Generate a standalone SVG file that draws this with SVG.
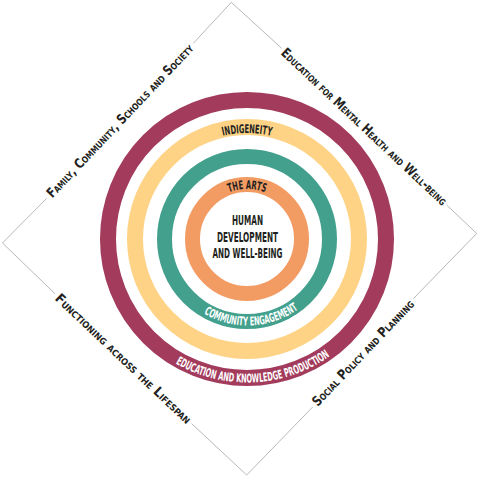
<svg xmlns="http://www.w3.org/2000/svg" width="480" height="477" viewBox="0 0 480 477">
<style>
.edge{fill:none;stroke:#b8b8b8;stroke-width:1}
.ring{fill:none}
.lbl{font-family:"Liberation Sans Narrow","DejaVu Sans Condensed","Liberation Sans",sans-serif;font-weight:bold;font-size:12px}
.dark{fill:#231f20}
.light{fill:#ffffff}
.outer{font-family:"Liberation Sans Narrow","DejaVu Sans Condensed","Liberation Sans",sans-serif;font-weight:bold;font-size:13.5px;font-variant:small-caps;fill:#231f20}
.core{font-family:"Liberation Sans Narrow","DejaVu Sans Condensed","Liberation Sans",sans-serif;font-weight:bold;font-size:14.5px;fill:#231f20;text-anchor:middle}
</style>
<defs>
<path id="pInd" d="M141,239 A106,106 0 0 1 353,239"/>
<path id="pArts" d="M197,239 A50,50 0 0 1 297,239"/>
<path id="pCom" d="M161,239 A86.5,86.5 0 0 0 334,239"/>
<path id="pEdu" d="M103.5,239 A143.5,143.5 0 0 0 390.5,239"/>
</defs>
<g id="connectors">
<path class="edge" d="M193.3,43.3 L231.3,2.3 L281.7,48.3"/>
<path class="edge" d="M446.7,205 L476.7,233.5 L413.3,298.7"/>
<path class="edge" d="M312.7,407 L246.7,475 L191.7,423.7"/>
<path class="edge" d="M55,293.7 L2.5,243 L46.7,198.3"/>
</g>
<g id="ring-education">
<circle class="ring" cx="247" cy="239" r="139" stroke="#a23b5c" stroke-width="16"/>
<text class="lbl light"><textPath href="#pEdu" startOffset="51.5%" text-anchor="middle" textLength="163" lengthAdjust="spacingAndGlyphs">EDUCATION AND KNOWLEDGE PRODUCTION</textPath></text>
</g>
<g id="ring-indigeneity">
<circle class="ring" cx="247" cy="239" r="112" stroke="#fed386" stroke-width="16"/>
<text class="lbl dark"><textPath href="#pInd" startOffset="50%" text-anchor="middle" textLength="49" lengthAdjust="spacingAndGlyphs">INDIGENEITY</textPath></text>
</g>
<g id="ring-community">
<circle class="ring" cx="247" cy="239" r="82.5" stroke="#42a08d" stroke-width="15"/>
<text class="lbl light"><textPath href="#pCom" startOffset="51.5%" text-anchor="middle" textLength="100" lengthAdjust="spacingAndGlyphs">COMMUNITY ENGAGEMENT</textPath></text>
</g>
<g id="ring-arts">
<circle class="ring" cx="247" cy="239" r="54.5" stroke="#f29c64" stroke-width="15"/>
<text class="lbl dark"><textPath href="#pArts" startOffset="50%" text-anchor="middle" textLength="37" lengthAdjust="spacingAndGlyphs">THE ARTS</textPath></text>
</g>
<g id="core">
<text class="core" x="247.5" y="225" textLength="31" lengthAdjust="spacingAndGlyphs">HUMAN</text>
<text class="core" x="247.5" y="241.7" textLength="61" lengthAdjust="spacingAndGlyphs">DEVELOPMENT</text>
<text class="core" x="247.5" y="258.3" textLength="70" lengthAdjust="spacingAndGlyphs">AND WELL-BEING</text>
</g>
<g id="label-family">
<text class="outer" text-anchor="middle" transform="translate(120,120.8) rotate(-46.45)" y="4.5" textLength="206" lengthAdjust="spacingAndGlyphs">Family, Community, Schools and Society</text>
</g>
<g id="label-mental-health">
<text class="outer" text-anchor="middle" transform="translate(364.2,126.7) rotate(43.3)" y="4.5" textLength="222" lengthAdjust="spacingAndGlyphs">Education for Mental Health and Well-being</text>
</g>
<g id="label-lifespan">
<text class="outer" text-anchor="middle" transform="translate(123.4,358.7) rotate(43.5)" y="4.5" textLength="182" lengthAdjust="spacingAndGlyphs">Functioning across the Lifespan</text>
</g>
<g id="label-policy">
<text class="outer" text-anchor="middle" transform="translate(363,352.9) rotate(-46.4)" y="4.5" textLength="141" lengthAdjust="spacingAndGlyphs">Social Policy and Planning</text>
</g>
</svg>
